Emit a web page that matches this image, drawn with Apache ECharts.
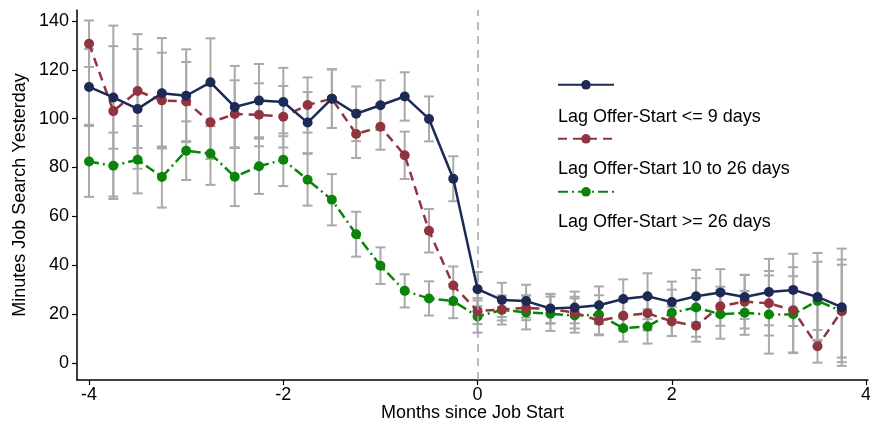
<!DOCTYPE html>
<html><head><meta charset="utf-8">
<script src="https://cdn.jsdelivr.net/npm/echarts@6/dist/echarts.min.js"></script>
<style>html,body{margin:0;padding:0;background:#fff}#c{width:870px;height:425px}</style>
</head><body><div id="c"></div>
<script>
const months = [-4, -3.75, -3.5, -3.25, -3, -2.75, -2.5, -2.25, -2, -1.75, -1.5, -1.25, -1, -0.75, -0.5, -0.25,
                0, 0.25, 0.5, 0.75, 1, 1.25, 1.5, 1.75, 2, 2.25, 2.5, 2.75, 3, 3.25, 3.5, 3.75];
const seriesNames = ['Lag Offer-Start <= 9 days', 'Lag Offer-Start 10 to 26 days', 'Lag Offer-Start >= 26 days'];
const lagShort = [113, 108.7, 104, 110.4, 109.4, 114.9, 104.8, 107.4, 106.8, 98.4, 108.2, 102, 105.5, 109.1, 99.9, 75.4,
                  30.2, 25.8, 25.3, 22.3, 22.7, 23.6, 26.2, 27.3, 24.9, 27.3, 28.8, 27, 29, 29.9, 27, 22.8];
const ciShort = [15.5, 21, 24.5, 22.6, 19, 18, 16.8, 15, 14, 12.5, 12, 11.2, 10.2, 9.9, 9.2, 9.2,
                 7, 7, 6.7, 6, 6.5, 7.7, 8, 9.4, 8.4, 10.8, 9.6, 9, 13.6, 14.8, 18, 24];
const lagMid = [130.7, 103.1, 111.3, 107.5, 107, 98.5, 101.9, 101.6, 100.8, 105.6, 108.2, 93.7, 96.7, 85, 54.1, 31.7,
                21.2, 21.9, 22.5, 22.1, 20.6, 17.3, 19.3, 20.3, 17, 15.2, 23.2, 25.1, 24.4, 21.6, 6.8, 21.3];
const ciMid = [9.5, 35, 23.3, 19.5, 16.2, 15, 13.8, 12.9, 12.6, 11.3, 12, 9.8, 9.4, 9.7, 8.9, 7.8,
               5.3, 4.5, 5, 6, 6.5, 6, 6, 7, 6, 6.5, 8, 11, 13.2, 17.6, 6.7, 21];
const lagLong = [82.5, 80.7, 83.2, 76.1, 86.9, 85.7, 76.2, 80.5, 83.2, 75, 66.8, 52.7, 39.8, 29.5, 26.4, 25.3,
                 19, 21.7, 20.7, 20.1, 19.4, 19.7, 14.2, 14.9, 20.5, 22.7, 19.9, 20.5, 19.8, 19.9, 25.4, 21.2];
const ciLong = [14.5, 13.6, 13.8, 12.5, 12, 12.8, 12, 11.3, 10.8, 10.6, 10.5, 9.2, 7.5, 6.8, 7, 7,
                6.6, 6, 7, 7, 7, 8, 5.5, 7, 9.5, 12, 10, 9, 16, 15.6, 16, 19];
const yTicks = [0, 20, 40, 60, 80, 100, 120, 140];
const xTicks = [-4, -2, 0, 2, 4];

const FONT = 'Liberation Sans, Arial, sans-serif';
const colors = ['#1d2a55', '#903540', '#0a850a'];
const dashes = ['solid', [9, 6], [10, 4, 2, 4]];

const chart = echarts.init(document.getElementById('c'), null, {renderer: 'canvas'});
function pairs(v) { return months.map((m, i) => [m, v[i]]); }
function errData(v, ci) { return months.map((m, i) => [m, v[i] - ci[i], v[i] + ci[i]]); }
function renderErr(params, api) {
  const x = api.value(0), lo = api.value(1), hi = api.value(2);
  const p1 = api.coord([x, hi]), p2 = api.coord([x, lo]);
  const w = 5;
  const style = {stroke: '#a9a9a9', lineWidth: 2, fill: null};
  return {type: 'group', children: [
    {type: 'line', shape: {x1: p1[0], y1: p1[1], x2: p2[0], y2: p2[1]}, style: style},
    {type: 'line', shape: {x1: p1[0] - w, y1: p1[1], x2: p1[0] + w, y2: p1[1]}, style: style},
    {type: 'line', shape: {x1: p2[0] - w, y1: p2[1], x2: p2[0] + w, y2: p2[1]}, style: style}
  ]};
}
const vals = [lagShort, lagMid, lagLong];
const cis = [ciShort, ciMid, ciLong];

const series = [];
vals.forEach((v, k) => {
  series.push({type: 'custom', name: 'err' + k, renderItem: renderErr, data: errData(v, cis[k]),
    encode: {x: 0, y: [1, 2]}, z: 1, silent: true});
});
vals.forEach((v, k) => {
  series.push({type: 'line', name: seriesNames[k], data: pairs(v), symbol: 'circle', symbolSize: 10,
    itemStyle: {color: colors[k]}, lineStyle: {color: colors[k], width: 2.5, type: dashes[k]},
    z: 3 + (2 - k),
    markLine: k === 0 ? {silent: true, symbol: 'none', label: {show: false},
      lineStyle: {color: '#a5a5a5', type: [8, 6], width: 1.5}, data: [{xAxis: 0}]} : undefined});
});

const legendTops = [86, 140, 193];
const labelYs = [118, 170, 223];

chart.setOption({
  animation: false,
  backgroundColor: '#fff',
  grid: {left: 77, right: 2, top: 10, bottom: 45, containLabel: false, outerBoundsMode: 'none'},
  xAxis: {type: 'value', min: -4.124, max: 4.02,
    name: 'Months since Job Start', nameLocation: 'middle', nameGap: 24, nameMoveOverlap: false,
    nameTextStyle: {fontFamily: FONT, fontSize: 18, color: '#000'},
    axisLine: {show: true, onZero: false, lineStyle: {color: '#000', width: 1.5}},
    axisTick: {show: true, length: 5, customValues: xTicks, lineStyle: {color: '#000', width: 1.2}},
    axisLabel: {customValues: xTicks, fontFamily: FONT, fontSize: 18, color: '#000', margin: 6,
      formatter: v => (v < 0 ? '-' + Math.abs(v) : String(v))},
    splitLine: {show: false}},
  yAxis: {type: 'value', min: -7, max: 144.5,
    name: 'Minutes Job Search Yesterday', nameLocation: 'middle', nameGap: 48, nameRotate: 90, nameMoveOverlap: false,
    nameTextStyle: {fontFamily: FONT, fontSize: 18, color: '#000'},
    axisLine: {show: true, onZero: false, lineStyle: {color: '#000', width: 1.5}},
    axisTick: {show: true, length: 5, customValues: yTicks, lineStyle: {color: '#000', width: 1.2}},
    axisLabel: {customValues: yTicks, fontFamily: FONT, fontSize: 18, color: '#000', margin: 8},
    splitLine: {show: false}},
  legend: seriesNames.map((n, k) => ({data: [n], left: 557, top: legendTops[k] - 6, padding: 0,
    itemWidth: 56, itemHeight: 12, formatter: () => '', selectedMode: false,
    textStyle: {fontSize: 10, lineHeight: 12}})),
  graphic: seriesNames.map((n, k) => ({type: 'text', left: 558, top: labelYs[k] - 10,
    style: {text: n, fontFamily: FONT, fontSize: 18, fill: '#000'}})),
  series: series
});
</script></body></html>
